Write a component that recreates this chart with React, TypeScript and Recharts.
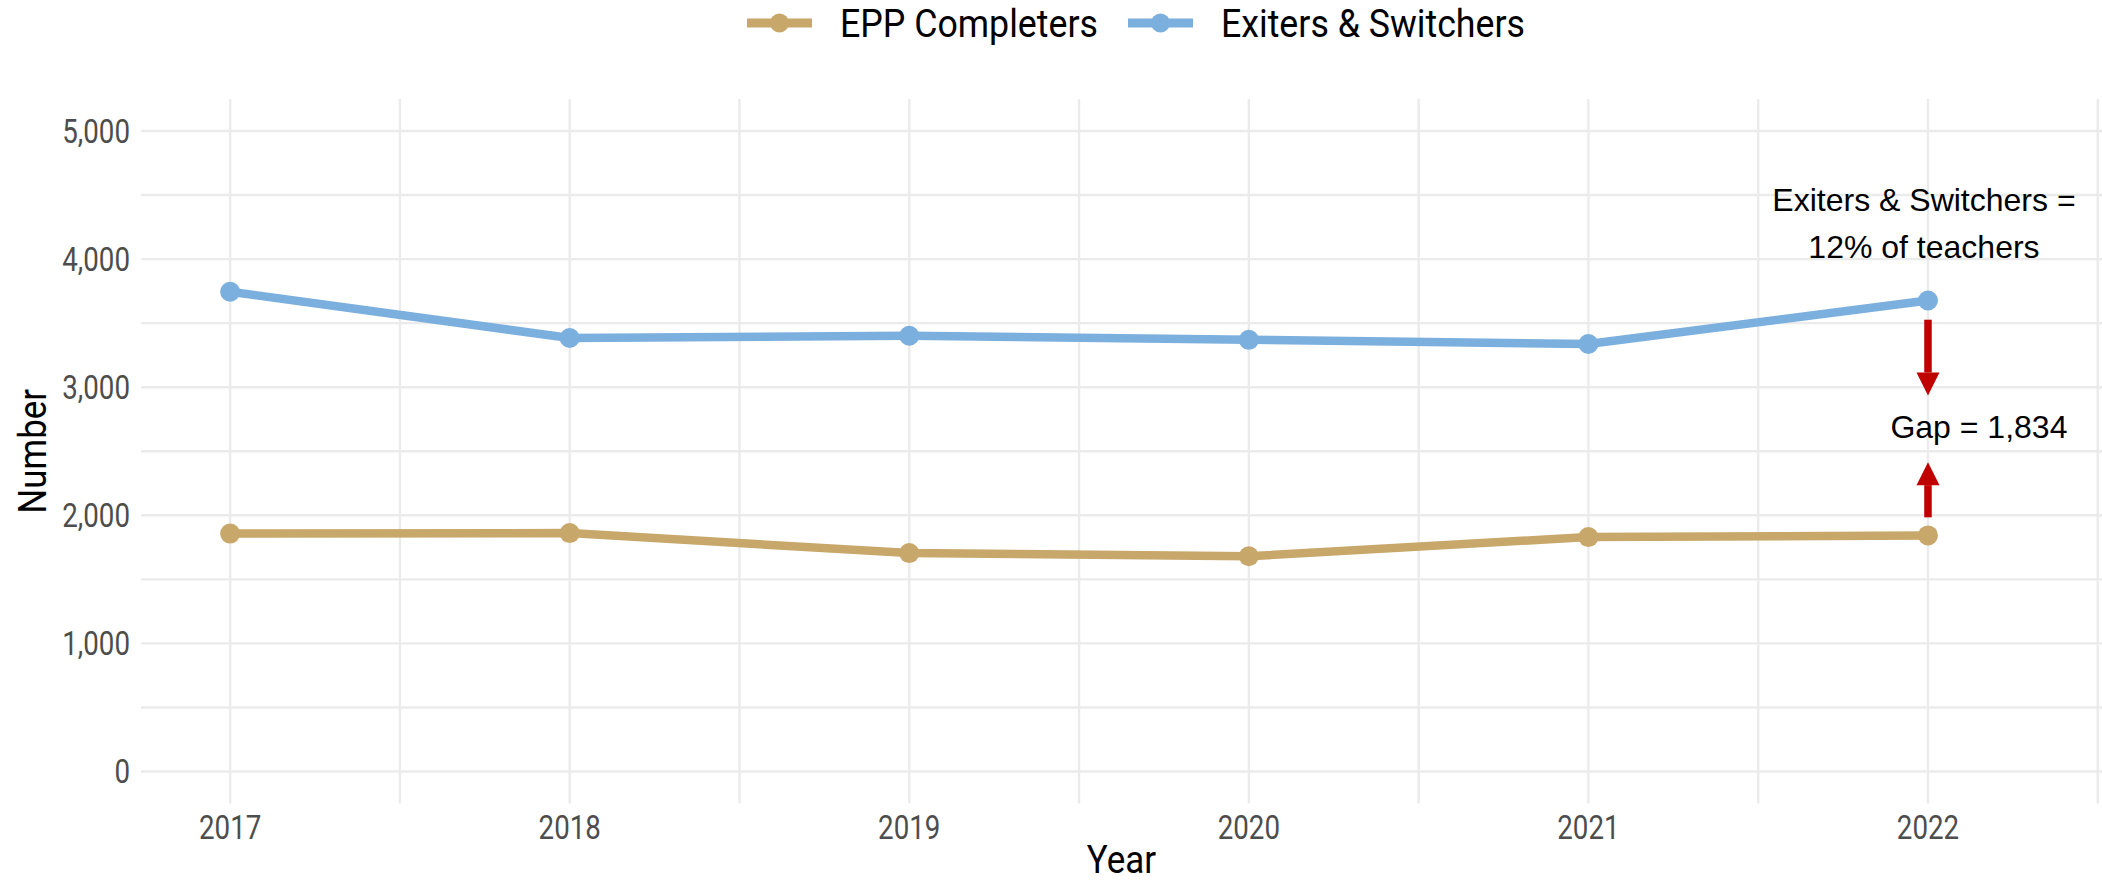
import {
  LineChart,
  Line,
  XAxis,
  YAxis,
  CartesianGrid,
  Legend,
  ReferenceLine,
  ReferenceDot,
} from "recharts";

const years = [2017, 2018, 2019, 2020, 2021, 2022];
const eppCompleters = [1857, 1861, 1705, 1680, 1830, 1843];
const exitersSwitchers = [3745, 3384, 3402, 3370, 3337, 3677];

const xTicks = [2017, 2017.5, 2018, 2018.5, 2019, 2019.5, 2020, 2020.5, 2021, 2021.5, 2022, 2022.5];
const yTicks = [0, 500, 1000, 1500, 2000, 2500, 3000, 3500, 4000, 4500, 5000];

// annotation values (data units)
const noteX = 2022;
const noteShareY = 4283;
const noteShareLines = ["Exiters & Switchers =", "12% of teachers"];
const gapLabel = "Gap = 1,834";
const gapLabelX = 2022.15;
const gapLabelY = 2690;
const arrowDown = [3527, 2935];
const arrowUp = [1984, 2415];

const data = years.map((year, i) => ({
  year,
  epp: eppCompleters[i],
  exit: exitersSwitchers[i],
}));

const TAN = "#C8A76A";
const BLUE = "#7BAFDE";
const RED = "#C00000";
const FONT = "Roboto, sans-serif";
const SQ = 0.84; // horizontal squeeze to mimic a condensed face
const SQ_TITLE = 0.92;

const fmt = (v: number) => v.toLocaleString("en-US");

const XTick = (props: any) => {
  const { x, y, payload } = props;
  if (payload.value % 1 !== 0) return <g />;
  return (
    <text
      transform={`translate(${x},${y + 29}) scale(${SQ},1)`}
      textAnchor="middle"
      fontSize={33}
      fontFamily={FONT}
      fill="#4d4d4d"
    >
      {payload.value}
    </text>
  );
};

const YTick = (props: any) => {
  const { x, y, payload } = props;
  if (payload.value % 1000 !== 0) return <g />;
  return (
    <text
      transform={`translate(${x},${y + 11.5}) scale(${SQ},1)`}
      textAnchor="end"
      fontSize={33}
      fontFamily={FONT}
      fill="#4d4d4d"
    >
      {fmt(payload.value)}
    </text>
  );
};

const legendX = [747, 1128];

const renderLegend = (props: any) => {
  const { payload } = props;
  return (
    <svg width={2102} height={50} style={{ display: "block" }}>
      {payload.map((item: any, i: number) => {
        const x0 = legendX[i];
        return (
          <g key={item.value}>
            <line x1={x0} x2={x0 + 65} y1={23} y2={23} stroke={item.color} strokeWidth={9} />
            <circle cx={x0 + 32.5} cy={23} r={9.5} fill={item.color} />
            <text
              transform={`translate(${x0 + 93},${23 + 13.5}) scale(0.94,1)`}
              fontSize={38}
              fontFamily={FONT}
              fill="#000"
            >
              {item.value}
            </text>
          </g>
        );
      })}
    </svg>
  );
};

const arrowShape = (props: any) => {
  const { x1, y1, x2, y2 } = props;
  const dir = y2 > y1 ? 1 : -1;
  const head = 23;
  const half = 11.5;
  const baseY = y2 - dir * head;
  return (
    <g>
      <line x1={x1} x2={x1} y1={y1} y2={baseY} stroke={RED} strokeWidth={7.5} />
      <polygon points={`${x2 - half},${baseY} ${x2 + half},${baseY} ${x2},${y2}`} fill={RED} />
    </g>
  );
};

const shareNote = (props: any) => {
  const { cx, cy } = props;
  return (
    <g>
      {noteShareLines.map((t, i) => (
        <text
          key={t}
          x={cx - 4}
          y={cy - 23 + i * 46.7 + 11}
          textAnchor="middle"
          fontSize={32}
          fontFamily="Liberation Sans, Arial, sans-serif"
          fill="#000"
        >
          {t}
        </text>
      ))}
    </g>
  );
};

const gapNote = (props: any) => {
  const { cx, cy } = props;
  return (
    <text
      x={cx}
      y={cy + 11}
      textAnchor="middle"
      fontSize={32}
      fontFamily="Liberation Sans, Arial, sans-serif"
      fill="#000"
    >
      {gapLabel}
    </text>
  );
};

export default function App() {
  return (
    <div style={{ position: "absolute", left: 0, top: 0, background: "#fff" }}>
      <LineChart width={2102} height={882} data={data} margin={{ top: 99, right: 0, bottom: 0, left: 0 }}>
        <CartesianGrid stroke="#ebebeb" strokeWidth={2.4} syncWithTicks />
        <XAxis
          dataKey="year"
          type="number"
          domain={[2016.7375, 2022.5125]}
          ticks={xTicks}
          allowDataOverflow
          axisLine={false}
          tickLine={false}
          tickSize={6}
          tickMargin={0}
          height={78.5}
          tick={<XTick />}
          interval={0}
          label={{
            value: "Year",
            content: (p: any) => {
              const vb = p.viewBox;
              return (
                <text
                  transform={`translate(${vb.x + vb.width / 2},${vb.y + 69}) scale(${SQ_TITLE},1)`}
                  textAnchor="middle"
                  fontSize={38}
                  fontFamily={FONT}
                  fill="#000"
                >
                  Year
                </text>
              );
            },
          }}
        />
        <YAxis
          type="number"
          domain={[-250, 5250]}
          ticks={yTicks}
          allowDataOverflow
          axisLine={false}
          tickLine={false}
          tickSize={6}
          tickMargin={5}
          width={141}
          tick={<YTick />}
          interval={0}
          label={{
            value: "Number",
            content: (p: any) => {
              const vb = p.viewBox;
              return (
                <text
                  transform={`translate(${46},${vb.y + vb.height / 2}) rotate(-90) scale(${SQ_TITLE},1)`}
                  textAnchor="middle"
                  fontSize={38}
                  fontFamily={FONT}
                  fill="#000"
                >
                  Number
                </text>
              );
            },
          }}
        />
        <Legend verticalAlign="middle" content={renderLegend} wrapperStyle={{ top: 0, left: 0, width: 2102, height: 50 }} />
        <Line
          dataKey="epp"
          name="EPP Completers"
          stroke={TAN}
          strokeWidth={8.5}
          dot={{ r: 10, fill: TAN, stroke: "none" }}
          activeDot={false}
          isAnimationActive={false}
        />
        <Line
          dataKey="exit"
          name="Exiters & Switchers"
          stroke={BLUE}
          strokeWidth={8.5}
          dot={{ r: 10, fill: BLUE, stroke: "none" }}
          activeDot={false}
          isAnimationActive={false}
        />
        <ReferenceLine segment={[{ x: noteX, y: arrowDown[0] }, { x: noteX, y: arrowDown[1] }]} shape={arrowShape} />
        <ReferenceLine segment={[{ x: noteX, y: arrowUp[0] }, { x: noteX, y: arrowUp[1] }]} shape={arrowShape} />
        <ReferenceDot x={noteX} y={noteShareY} shape={shareNote} />
        <ReferenceDot x={gapLabelX} y={gapLabelY} shape={gapNote} />
      </LineChart>
    </div>
  );
}
